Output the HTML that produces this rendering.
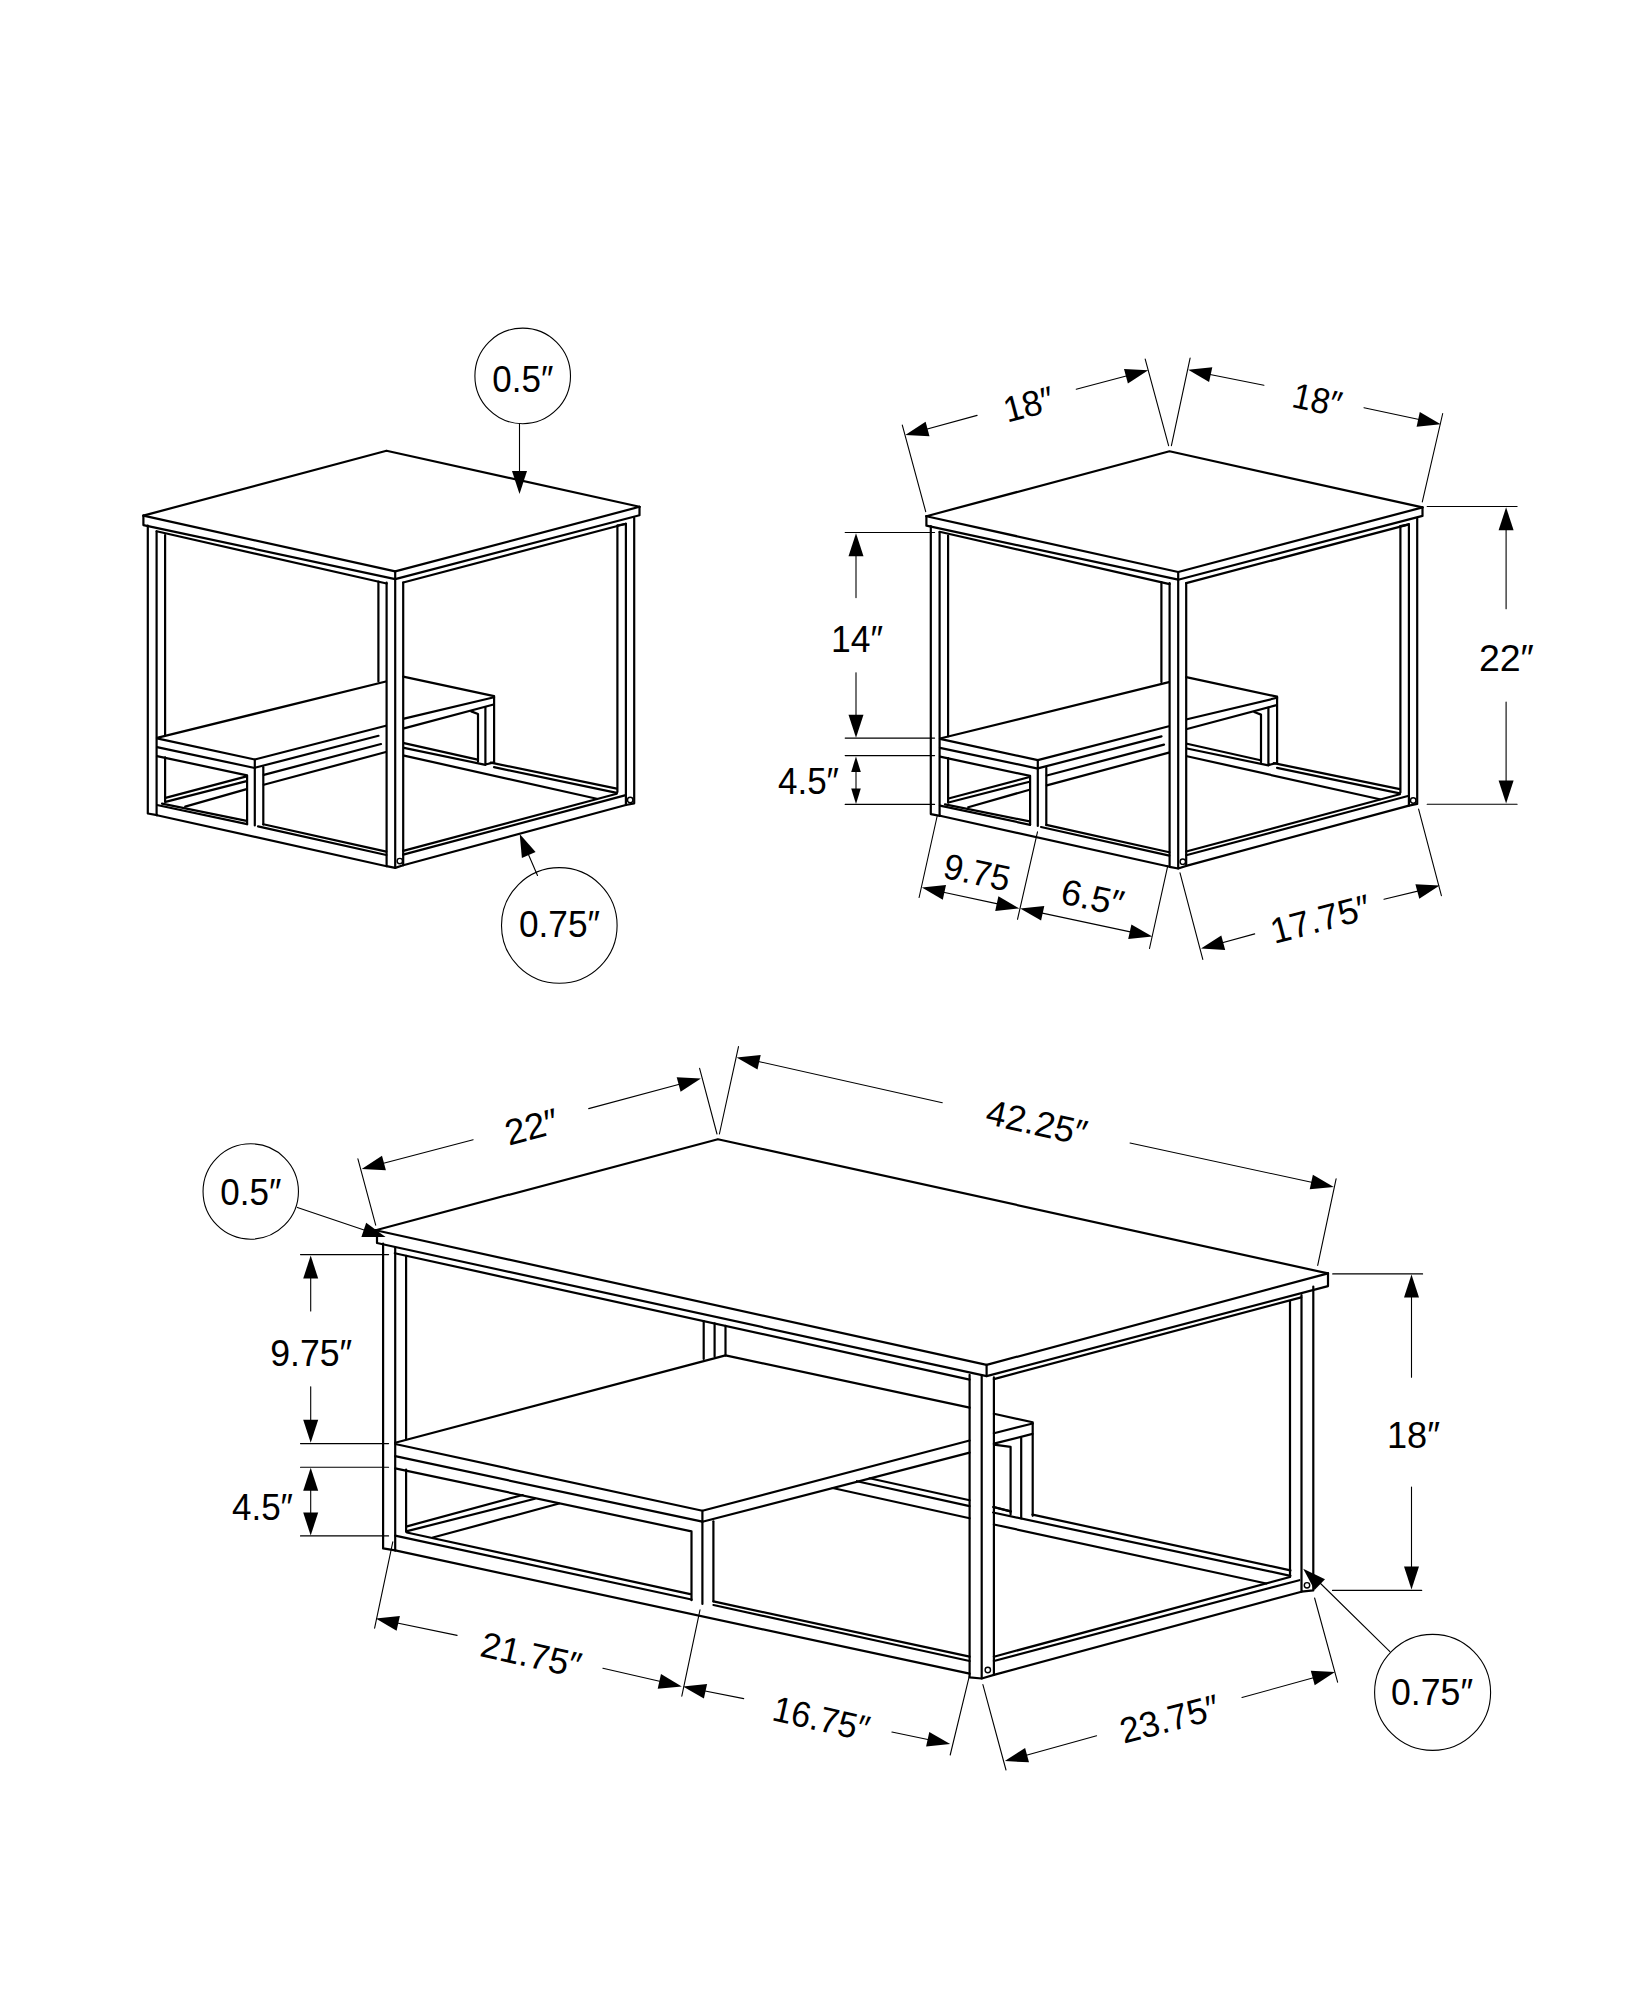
<!DOCTYPE html>
<html><head><meta charset="utf-8"><style>
html,body{margin:0;padding:0;background:#fff;}
svg{display:block;}
path,line,circle{stroke:#000;fill:none;stroke-linecap:round;stroke-linejoin:round;}
polygon.f{fill:#000;stroke:none;}
text{font-family:"Liberation Sans",sans-serif;fill:#000;text-anchor:middle;}
</style></head><body>
<svg width="1647" height="2000" viewBox="0 0 1647 2000">
<rect width="1647" height="2000" fill="#fff"/>
<g id="et">
<path d="M143.4,515.6 L386.5,450.7 L639.5,506.8" stroke-width="2.2"/>
<path d="M143.4,515.6 L395.2,571.4 L639.5,506.8" stroke-width="2.2"/>
<path d="M143.4,515.6 V525.1 L395.2,579.1 L639.5,515.3 V506.8" stroke-width="2.2"/>
<path d="M395.2,571.4 V579.1" stroke-width="2.2"/>
<path d="M147.8,525.5 V813.5 L157,815.2" stroke-width="2.2"/>
<path d="M156.6,531.6 V815.2" stroke-width="2.2"/>
<path d="M165.1,535 V735.7 M165.1,757.4 V802" stroke-width="2.2"/>
<path d="M156.6,531.2 L386.6,583.5" stroke-width="2.2"/>
<path d="M378.4,581.6 V681.5" stroke-width="2.2"/>
<path d="M386.6,582.5 V866.2 L395.2,867.9 L403.2,865.3 V582.5" stroke-width="2.2"/>
<path d="M395.2,579.1 V867.9" stroke-width="2.2"/>
<circle cx="399.8" cy="861.1" r="2.7" stroke-width="1.4" fill="none"/>
<path d="M403.2,582.5 L625.9,523.8" stroke-width="2.2"/>
<path d="M617.4,525.5 L625.9,523.8" stroke-width="2.2"/>
<path d="M617.4,525.5 V792" stroke-width="2.2"/>
<path d="M625.9,523.8 V805 L634.2,803.3 V517.9" stroke-width="2.2"/>
<circle cx="630.2" cy="799.9" r="2.7" stroke-width="1.4" fill="none"/>
<path d="M157,737.9 L385.9,681.5" stroke-width="2.2"/>
<path d="M157,738.3 L254.8,759.5 L385.9,725.7" stroke-width="2.2"/>
<path d="M157,747.2 L254.8,768" stroke-width="2.2"/>
<path d="M157,756.1 L247.1,775.3 V824.2" stroke-width="2.2"/>
<path d="M254.8,759.5 V825.4" stroke-width="2.2"/>
<path d="M263.3,767.2 V824.6" stroke-width="2.2"/>
<path d="M254.8,767.8 L378.5,735.8" stroke-width="2.2"/>
<path d="M263.8,774.9 L381,744" stroke-width="2.2"/>
<path d="M263.8,784.8 L385.9,752" stroke-width="2.2"/>
<path d="M403.2,676.6 L494.1,696.1 V762.4" stroke-width="2.2"/>
<path d="M404,718.6 L494.1,697.2" stroke-width="2.2"/>
<path d="M404,728.4 L493.6,704.5" stroke-width="2.2"/>
<path d="M485.4,707 V764.5 L494.1,762.4" stroke-width="2.2"/>
<path d="M471.2,711.4 L478,714 V761.6" stroke-width="2.2"/>
<path d="M157,815.2 L386.6,866.2" stroke-width="2.2"/>
<path d="M157,805 L247.1,824.2 M263.3,824.3 L386.3,851.6 M258,826.4 L386.3,855" stroke-width="2.2"/>
<path d="M162,803.7 L246.6,820.8" stroke-width="2.2"/>
<path d="M165.5,797.9 L246.6,776.4" stroke-width="2.2"/>
<path d="M165.5,801.9 L246.6,781.1" stroke-width="2.2"/>
<path d="M185.2,806.6 L246.6,789.1" stroke-width="2.2"/>
<path d="M404,743.1 L477.6,759.6" stroke-width="2.2"/>
<path d="M404,747.9 L485.4,764.8" stroke-width="2.2"/>
<path d="M404,755.6 L596.8,798.7" stroke-width="2.2"/>
<path d="M490.7,762.6 L616.8,788.6" stroke-width="2.2"/>
<path d="M494,767.2 L616.8,792.8" stroke-width="2.2"/>
<path d="M403.2,865.3 L625.9,805" stroke-width="2.2"/>
<path d="M403.2,850.9 L616.8,793.7" stroke-width="2.2"/>
<path d="M403.2,854.6 L624.9,795.4" stroke-width="2.2"/>
</g>
<use href="#et" transform="translate(783,0.6)"/>
<circle cx="522.7" cy="375.9" r="47.8" stroke-width="1.1" fill="none"/>
<text transform="translate(522.8,392.1)" x="0" y="0" font-size="36" textLength="61" lengthAdjust="spacingAndGlyphs">0.5″</text>
<line x1="519.5" y1="423.7" x2="519.5" y2="472.0" stroke-width="1.1"/>
<polygon class="f" points="519.5,494.1 527.0,471.1 512.0,471.1"/>
<circle cx="559.3" cy="925.4" r="57.8" stroke-width="1.1" fill="none"/>
<text transform="translate(559.5,937.0)" x="0" y="0" font-size="36" textLength="81" lengthAdjust="spacingAndGlyphs">0.75″</text>
<line x1="537.5" y1="875.5" x2="526.5" y2="850.0" stroke-width="1.1"/>
<polygon class="f" points="519.7,833.9 521.9,858.0 535.6,852.1"/>
<line x1="902.3" y1="425.1" x2="925.7" y2="511.6" stroke-width="1.1"/>
<line x1="1145.2" y1="359.1" x2="1168.6" y2="445.7" stroke-width="1.1"/>
<line x1="1190.1" y1="358.1" x2="1171.4" y2="445.7" stroke-width="1.1"/>
<line x1="1442.7" y1="413.5" x2="1422.3" y2="501.9" stroke-width="1.1"/>
<polygon class="f" points="905.3,434.9 929.5,436.2 925.6,421.7"/>
<line x1="920.0" y1="431.0" x2="977.1" y2="415.4" stroke-width="1.1"/>
<polygon class="f" points="1148.2,370.2 1124.0,368.9 1127.9,383.4"/>
<line x1="1076.2" y1="389.2" x2="1130.0" y2="375.0" stroke-width="1.1"/>
<text transform="translate(1031.8,416.3) rotate(-14.90)" x="0" y="0" font-size="36" textLength="51" lengthAdjust="spacingAndGlyphs">18″</text>
<polygon class="f" points="1188.2,369.8 1209.1,382.0 1212.3,367.3"/>
<line x1="1200.0" y1="372.5" x2="1263.9" y2="385.3" stroke-width="1.1"/>
<polygon class="f" points="1440.7,424.2 1419.8,412.0 1416.6,426.7"/>
<line x1="1364.0" y1="407.7" x2="1425.0" y2="420.8" stroke-width="1.1"/>
<text transform="translate(1314.6,411.9) rotate(12.20)" x="0" y="0" font-size="36" textLength="49.5" lengthAdjust="spacingAndGlyphs">18″</text>
<line x1="1427.2" y1="506.5" x2="1517.1" y2="506.5" stroke-width="1.1"/>
<line x1="1427.2" y1="804.2" x2="1517.1" y2="804.2" stroke-width="1.1"/>
<polygon class="f" points="1506.1,507.3 1498.6,530.3 1513.6,530.3"/>
<line x1="1506.1" y1="525.0" x2="1506.1" y2="608.8" stroke-width="1.1"/>
<polygon class="f" points="1506.1,803.4 1513.6,780.4 1498.6,780.4"/>
<line x1="1506.1" y1="702.0" x2="1506.1" y2="785.0" stroke-width="1.1"/>
<text transform="translate(1506.4,671.4)" x="0" y="0" font-size="36" textLength="55" lengthAdjust="spacingAndGlyphs">22″</text>
<line x1="845.2" y1="532.5" x2="934.6" y2="532.5" stroke-width="1.1"/>
<line x1="845.2" y1="738.1" x2="934.6" y2="738.1" stroke-width="1.1"/>
<line x1="845.2" y1="755.6" x2="934.6" y2="755.6" stroke-width="1.1"/>
<line x1="845.2" y1="804.4" x2="934.6" y2="804.4" stroke-width="1.1"/>
<polygon class="f" points="856.0,533.2 848.5,556.2 863.5,556.2"/>
<line x1="856.0" y1="550.0" x2="856.0" y2="597.6" stroke-width="1.1"/>
<polygon class="f" points="856.0,737.8 863.5,714.8 848.5,714.8"/>
<line x1="856.0" y1="672.7" x2="856.0" y2="720.0" stroke-width="1.1"/>
<text transform="translate(857.0,651.5)" x="0" y="0" font-size="36" textLength="52" lengthAdjust="spacingAndGlyphs">14″</text>
<polygon class="f" points="856.0,756.4 851.2,771.9 860.8,771.9"/>
<polygon class="f" points="856.0,804.1 860.8,788.6 851.2,788.6"/>
<line x1="856.0" y1="770.0" x2="856.0" y2="790.0" stroke-width="1.1"/>
<text transform="translate(808.5,793.9)" x="0" y="0" font-size="36" textLength="61" lengthAdjust="spacingAndGlyphs">4.5″</text>
<line x1="937.3" y1="815.5" x2="919.1" y2="897.5" stroke-width="1.1"/>
<line x1="1037.5" y1="831.9" x2="1017.5" y2="919.3" stroke-width="1.1"/>
<line x1="1167.8" y1="865.6" x2="1149.5" y2="948.5" stroke-width="1.1"/>
<polygon class="f" points="921.9,887.5 942.8,899.7 946.0,885.0"/>
<polygon class="f" points="1019.3,908.4 998.4,896.2 995.2,910.9"/>
<line x1="940.0" y1="891.5" x2="1000.0" y2="904.4" stroke-width="1.1"/>
<text transform="translate(974.5,884.5) rotate(12.10)" x="0" y="0" font-size="36" textLength="67" lengthAdjust="spacingAndGlyphs">9.75</text>
<polygon class="f" points="1020.2,908.4 1041.1,920.5 1044.3,905.9"/>
<polygon class="f" points="1152.3,936.6 1131.4,924.5 1128.2,939.1"/>
<line x1="1040.0" y1="912.6" x2="1135.0" y2="932.9" stroke-width="1.1"/>
<text transform="translate(1090.0,909.7) rotate(12.10)" x="0" y="0" font-size="36" textLength="63" lengthAdjust="spacingAndGlyphs">6.5″</text>
<line x1="1180.0" y1="872.9" x2="1202.8" y2="959.4" stroke-width="1.1"/>
<line x1="1418.6" y1="809.1" x2="1441.4" y2="895.7" stroke-width="1.1"/>
<polygon class="f" points="1201.0,948.5 1225.2,949.9 1221.3,935.4"/>
<line x1="1215.0" y1="944.8" x2="1254.7" y2="933.9" stroke-width="1.1"/>
<polygon class="f" points="1439.6,885.6 1415.4,884.2 1419.3,898.7"/>
<line x1="1384.0" y1="899.3" x2="1425.0" y2="889.4" stroke-width="1.1"/>
<text transform="translate(1323.5,931.0) rotate(-14.75)" x="0" y="0" font-size="36" textLength="102" lengthAdjust="spacingAndGlyphs">17.75″</text>
<path d="M375.7,1230.2 L717.9,1139.2 L1328,1273.4" stroke-width="2.2"/>
<path d="M375.7,1230.2 L986.6,1364.9 L1328,1273.4" stroke-width="2.2"/>
<path d="M375.7,1230.2 L377,1236 V1243 L986.6,1376.1 L1328,1286.1 V1273.4" stroke-width="2.2"/>
<path d="M986.6,1364.9 V1376.1" stroke-width="2.2"/>
<path d="M383.1,1243.6 V1548.4 L395.2,1550.4" stroke-width="2.2"/>
<path d="M395.2,1247.3 V1550.4" stroke-width="2.2"/>
<path d="M406.1,1255.8 V1439.1 M406.1,1469.5 V1531.4" stroke-width="2.2"/>
<path d="M394.8,1253.2 L969.6,1379.6" stroke-width="2.2"/>
<path d="M703.7,1321 V1359" stroke-width="2.2"/>
<path d="M714.6,1323.4 V1356.6" stroke-width="2.2"/>
<path d="M725.5,1325.9 V1355.4" stroke-width="2.2"/>
<path d="M969.6,1374.9 V1677.3 L981.7,1678.5 L993.9,1674.9 V1377.4" stroke-width="2.2"/>
<path d="M981.7,1376.1 V1678.5" stroke-width="2.2"/>
<circle cx="987.8" cy="1670" r="2.7" stroke-width="1.4" fill="none"/>
<path d="M993.9,1379.1 L1301.2,1297.4" stroke-width="2.2"/>
<path d="M1290,1301.5 V1576.4" stroke-width="2.2"/>
<path d="M1301.5,1295 V1591.7 L1313.3,1590.4 V1286.5" stroke-width="2.2"/>
<circle cx="1307" cy="1585.3" r="2.7" stroke-width="1.4" fill="none"/>
<path d="M395.2,1442.8 L725.5,1355.4 L969.6,1407.7 M993.9,1413.8 L1032.7,1422.3 V1515.8" stroke-width="2.2"/>
<path d="M395.2,1444 L702.4,1510.8 V1603.9" stroke-width="2.2"/>
<path d="M395.2,1456.2 L702.4,1521.7" stroke-width="2.2"/>
<path d="M395.2,1468.3 L691.5,1531.4 V1600.2" stroke-width="2.2"/>
<path d="M713.4,1521.3 V1601.4" stroke-width="2.2"/>
<path d="M702.4,1510.8 L969.6,1440.5 M993.9,1433.2 L1032.7,1423.5" stroke-width="2.2"/>
<path d="M702.4,1521.7 L969.6,1452.6 M993.9,1443.6 L1032.5,1433.9 M1021.2,1437.9 V1518.4" stroke-width="2.2"/>
<path d="M993.9,1444.7 L1010.6,1446.9 V1514.6" stroke-width="2.2"/>
<path d="M993.9,1507 L1010.6,1511.4" stroke-width="2.2"/>
<path d="M406.1,1526.6 L522.7,1495" stroke-width="2.2"/>
<path d="M406.1,1531.4 L534.9,1498.7" stroke-width="2.2"/>
<path d="M432.9,1537.5 L559.1,1503.5" stroke-width="2.2"/>
<path d="M832.6,1488 L969.6,1518.2 M993.9,1524.5 L1266.3,1583.5" stroke-width="2.2"/>
<path d="M869.6,1478.3 L969.6,1500.3 M1032.5,1514.6 L1290.4,1570.4" stroke-width="2.2"/>
<path d="M993.1,1507 L1010.6,1511.4" stroke-width="2.2"/>
<path d="M856.9,1481.2 L969.6,1506.1" stroke-width="2.2"/>
<path d="M993.1,1512.5 L1290.4,1575.8" stroke-width="2.2"/>
<path d="M395.2,1550.4 L969.6,1673.7" stroke-width="2.2"/>
<path d="M395.2,1535.6 L691.5,1599.5 M713.4,1601.4 L969.6,1656.7" stroke-width="2.2"/>
<path d="M406.8,1532.5 L690.3,1594.1 M713.4,1605 L969.6,1661" stroke-width="2.2"/>
<path d="M993.9,1674.9 L1301.5,1591.7" stroke-width="2.2"/>
<path d="M993.9,1656.7 L1290,1577" stroke-width="2.2"/>
<path d="M993.9,1661 L1299.3,1580.2" stroke-width="2.2"/>
<line x1="357.9" y1="1158.8" x2="375.7" y2="1225.1" stroke-width="1.1"/>
<line x1="699.6" y1="1068.3" x2="717.0" y2="1134.0" stroke-width="1.1"/>
<line x1="738.5" y1="1046.6" x2="719.4" y2="1134.0" stroke-width="1.1"/>
<polygon class="f" points="361.7,1169.0 385.9,1170.3 382.0,1155.8"/>
<line x1="375.0" y1="1165.5" x2="473.1" y2="1139.7" stroke-width="1.1"/>
<polygon class="f" points="700.9,1078.5 676.7,1077.2 680.6,1091.7"/>
<line x1="588.7" y1="1108.6" x2="685.0" y2="1082.8" stroke-width="1.1"/>
<text transform="translate(534.8,1138.8) rotate(-14.90)" x="0" y="0" font-size="36" textLength="54" lengthAdjust="spacingAndGlyphs">22″</text>
<polygon class="f" points="736.6,1057.4 757.5,1069.6 760.7,1054.9"/>
<line x1="750.0" y1="1059.6" x2="942.3" y2="1102.7" stroke-width="1.1"/>
<polygon class="f" points="1333.8,1186.9 1312.9,1174.7 1309.7,1189.3"/>
<line x1="1130.0" y1="1143.0" x2="1315.0" y2="1183.0" stroke-width="1.1"/>
<text transform="translate(1034.1,1134.7) rotate(12.60)" x="0" y="0" font-size="36" textLength="102" lengthAdjust="spacingAndGlyphs">42.25″</text>
<line x1="1336.1" y1="1178.8" x2="1317.7" y2="1265.4" stroke-width="1.1"/>
<line x1="1332.7" y1="1273.9" x2="1422.6" y2="1273.9" stroke-width="1.1"/>
<line x1="1332.5" y1="1590.4" x2="1421.7" y2="1590.4" stroke-width="1.1"/>
<polygon class="f" points="1411.5,1274.6 1404.0,1297.6 1419.0,1297.6"/>
<line x1="1411.5" y1="1290.0" x2="1411.5" y2="1377.3" stroke-width="1.1"/>
<polygon class="f" points="1411.5,1589.6 1419.0,1566.6 1404.0,1566.6"/>
<line x1="1411.5" y1="1487.1" x2="1411.5" y2="1570.0" stroke-width="1.1"/>
<text transform="translate(1413.5,1447.9)" x="0" y="0" font-size="36" textLength="53" lengthAdjust="spacingAndGlyphs">18″</text>
<line x1="300.5" y1="1254.6" x2="388.6" y2="1254.6" stroke-width="1.1"/>
<line x1="300.5" y1="1443.6" x2="388.6" y2="1443.6" stroke-width="1.1"/>
<line x1="300.5" y1="1467.2" x2="388.6" y2="1467.2" stroke-width="1.1"/>
<line x1="300.5" y1="1535.9" x2="388.6" y2="1535.9" stroke-width="1.1"/>
<polygon class="f" points="310.7,1255.6 303.2,1278.6 318.2,1278.6"/>
<line x1="310.7" y1="1270.0" x2="310.7" y2="1311.0" stroke-width="1.1"/>
<polygon class="f" points="310.7,1442.8 318.2,1419.8 303.2,1419.8"/>
<line x1="310.7" y1="1386.8" x2="310.7" y2="1425.0" stroke-width="1.1"/>
<text transform="translate(311.2,1365.8)" x="0" y="0" font-size="36" textLength="82" lengthAdjust="spacingAndGlyphs">9.75″</text>
<polygon class="f" points="310.7,1467.8 303.2,1490.8 318.2,1490.8"/>
<polygon class="f" points="310.7,1535.5 318.2,1512.5 303.2,1512.5"/>
<line x1="310.7" y1="1485.0" x2="310.7" y2="1515.0" stroke-width="1.1"/>
<text transform="translate(262.5,1519.9)" x="0" y="0" font-size="36" textLength="61" lengthAdjust="spacingAndGlyphs">4.5″</text>
<circle cx="250.75" cy="1191.5" r="47.7" stroke-width="1.1" fill="none"/>
<text transform="translate(250.8,1204.8)" x="0" y="0" font-size="36" textLength="61" lengthAdjust="spacingAndGlyphs">0.5″</text>
<line x1="297.4" y1="1207.4" x2="370.0" y2="1232.0" stroke-width="1.1"/>
<polygon class="f" points="385.6,1237.1 366.2,1222.7 361.4,1236.9"/>
<line x1="392.8" y1="1541.9" x2="374.6" y2="1628.1" stroke-width="1.1"/>
<line x1="700.0" y1="1609.9" x2="681.8" y2="1696.1" stroke-width="1.1"/>
<polygon class="f" points="375.8,1618.4 396.6,1630.7 399.9,1616.1"/>
<line x1="390.0" y1="1621.5" x2="457.1" y2="1635.4" stroke-width="1.1"/>
<polygon class="f" points="681.8,1686.4 661.0,1674.1 657.7,1688.7"/>
<line x1="602.9" y1="1668.2" x2="665.0" y2="1682.5" stroke-width="1.1"/>
<text transform="translate(528.4,1667.0) rotate(12.60)" x="0" y="0" font-size="36" textLength="102" lengthAdjust="spacingAndGlyphs">21.75″</text>
<polygon class="f" points="683.0,1686.4 703.9,1698.6 707.1,1683.9"/>
<line x1="700.0" y1="1690.0" x2="743.7" y2="1698.6" stroke-width="1.1"/>
<polygon class="f" points="950.2,1744.1 929.3,1731.9 926.1,1746.6"/>
<line x1="891.9" y1="1732.0" x2="935.0" y2="1741.0" stroke-width="1.1"/>
<text transform="translate(818.5,1730.8) rotate(12.60)" x="0" y="0" font-size="36" textLength="98" lengthAdjust="spacingAndGlyphs">16.75″</text>
<line x1="969.6" y1="1674.9" x2="950.2" y2="1755.0" stroke-width="1.1"/>
<line x1="982.9" y1="1684.6" x2="1006.0" y2="1770.0" stroke-width="1.1"/>
<line x1="1314.6" y1="1598.0" x2="1337.6" y2="1682.2" stroke-width="1.1"/>
<polygon class="f" points="1004.8,1761.1 1029.0,1762.3 1025.1,1747.9"/>
<line x1="1020.0" y1="1757.0" x2="1096.6" y2="1735.8" stroke-width="1.1"/>
<polygon class="f" points="1335.0,1672.0 1310.8,1670.8 1314.7,1685.2"/>
<line x1="1242.0" y1="1697.5" x2="1318.0" y2="1676.5" stroke-width="1.1"/>
<text transform="translate(1172.7,1731.0) rotate(-14.75)" x="0" y="0" font-size="36" textLength="101" lengthAdjust="spacingAndGlyphs">23.75″</text>
<circle cx="1432.6" cy="1692.4" r="58" stroke-width="1.1" fill="none"/>
<text transform="translate(1432.0,1705.3)" x="0" y="0" font-size="36" textLength="82" lengthAdjust="spacingAndGlyphs">0.75″</text>
<line x1="1389.9" y1="1651.6" x2="1318.5" y2="1581.5" stroke-width="1.1"/>
<polygon class="f" points="1303.2,1568.7 1314.6,1590.0 1325.0,1579.2"/>
</svg></body></html>
